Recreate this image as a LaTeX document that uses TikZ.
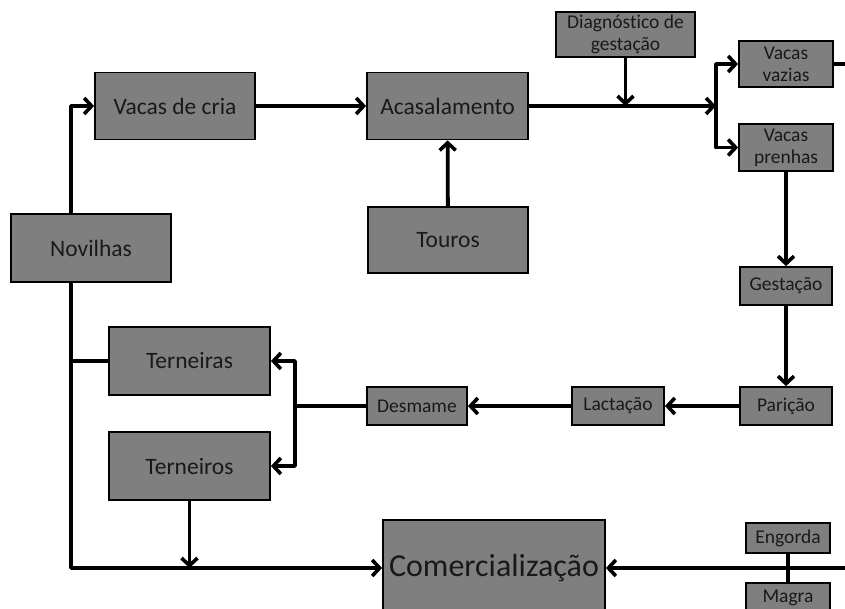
\documentclass[tikz,border=0pt]{standalone}
\usepackage{fontspec}
\setmainfont{Carlito}[Ligatures={NoCommon,NoDiscretionary}]
\usetikzlibrary{arrows.meta}
\definecolor{boxgray}{HTML}{7F7F7F}
\tikzset{
  box/.style={draw=black, fill=boxgray, line width=1.8pt, inner sep=0pt,
    align=center, text=black!90},
  big/.style={box, font=\fontsize{23.5}{26}\selectfont},
  small/.style={box, font=\fontsize{19.5}{22}\selectfont},
  link/.style={line width=3.8pt, line join=round},
  arr/.style={link, -{Straight Barb[length=7.5pt,width=16pt,line width=3.6pt]}}
}
\begin{document}
\begin{tikzpicture}[x=1pt,y=-1pt]
\useasboundingbox[fill=white] (0,0) rectangle (845,609);

% routing points
\coordinate (lx) at (71,0);
\coordinate (br) at (716,106);
\coordinate (wb) at (295,406);
\coordinate (vzout) at (845,64);
\coordinate (rin) at (845,568);

% boxes
\node[big, minimum width=160pt, minimum height=67pt] (vcria) at (175,106) {Vacas de cria};
\node[big, minimum width=161pt, minimum height=67pt] (acas) at (447.5,106) {Acasalamento};
\node[big, minimum width=160pt, minimum height=66pt] (touros) at (448,240) {Touros};
\node[big, minimum width=160pt, minimum height=68pt] (novi) at (91,248) {Novilhas};
\node[small, minimum width=139pt, minimum height=45pt] (diag) at (625.5,34.5) {Diagnóstico de\\gestação};
\node[small, minimum width=94pt, minimum height=46pt] (vazias) at (786,64) {Vacas\\vazias};
\node[small, minimum width=94pt, minimum height=47pt] (prenhas) at (786,147.5) {Vacas\\prenhas};
\node[small, minimum width=92pt, minimum height=38pt] (gest) at (786,286) {Gestação};
\node[small, minimum width=92pt, minimum height=38pt] (pari) at (786,406) {Parição};
\node[small, minimum width=92pt, minimum height=38pt] (lact) at (618,406) {Lactação};
\node[small, minimum width=100pt, minimum height=38pt] (desm) at (417,406) {Desmame};
\node[big, minimum width=161pt, minimum height=68pt] (ternas) at (189.5,361) {Terneiras};
\node[big, minimum width=161pt, minimum height=68pt] (ternos) at (189.5,466) {Terneiros};
\node[box, font=\fontsize{32}{36}\selectfont, minimum width=222pt, minimum height=96pt] (comerc) at (494,568) {Comercialização};
\node[small, minimum width=84pt, minimum height=30pt] (engorda) at (788,538) {Engorda};
\node[small, minimum width=84pt, minimum height=30pt] (magra) at (788,598) {Magra};

% heifers to breeding cows and to sale
\draw[arr] (novi.north -| lx) |- (vcria.west);
\draw[arr] (novi.south -| lx) |- (comerc.west);
\draw[link] (ternas.west) -- (ternas.west -| lx);
\draw[arr] (ternos.south) -- (ternos.south |- comerc.west);

% breeding
\draw[arr] (vcria) -- (acas);
\draw[arr] (touros) -- (acas);
\draw[arr] (acas.east) -- (br);
\draw[arr] (diag.south) -- (diag.south |- acas.east);
\draw[arr] (br) |- (vazias.west);
\draw[arr] (br) |- (prenhas.west);
\draw[link] (vazias.east) -- (vzout);

% gestation cycle
\draw[arr] (prenhas.south) -- (gest.north);
\draw[arr] (gest) -- (pari);
\draw[arr] (pari) -- (lact);
\draw[arr] (lact) -- (desm);
\draw[link] (desm.west) -- (wb);
\draw[arr] (wb) |- (ternas.east);
\draw[arr] (wb) |- (ternos.east);

% fattening / lean stock to sale
\draw[arr] (rin) -- (comerc.east);
\draw[link] (engorda.south) -- (magra.north);
\end{tikzpicture}
\end{document}
